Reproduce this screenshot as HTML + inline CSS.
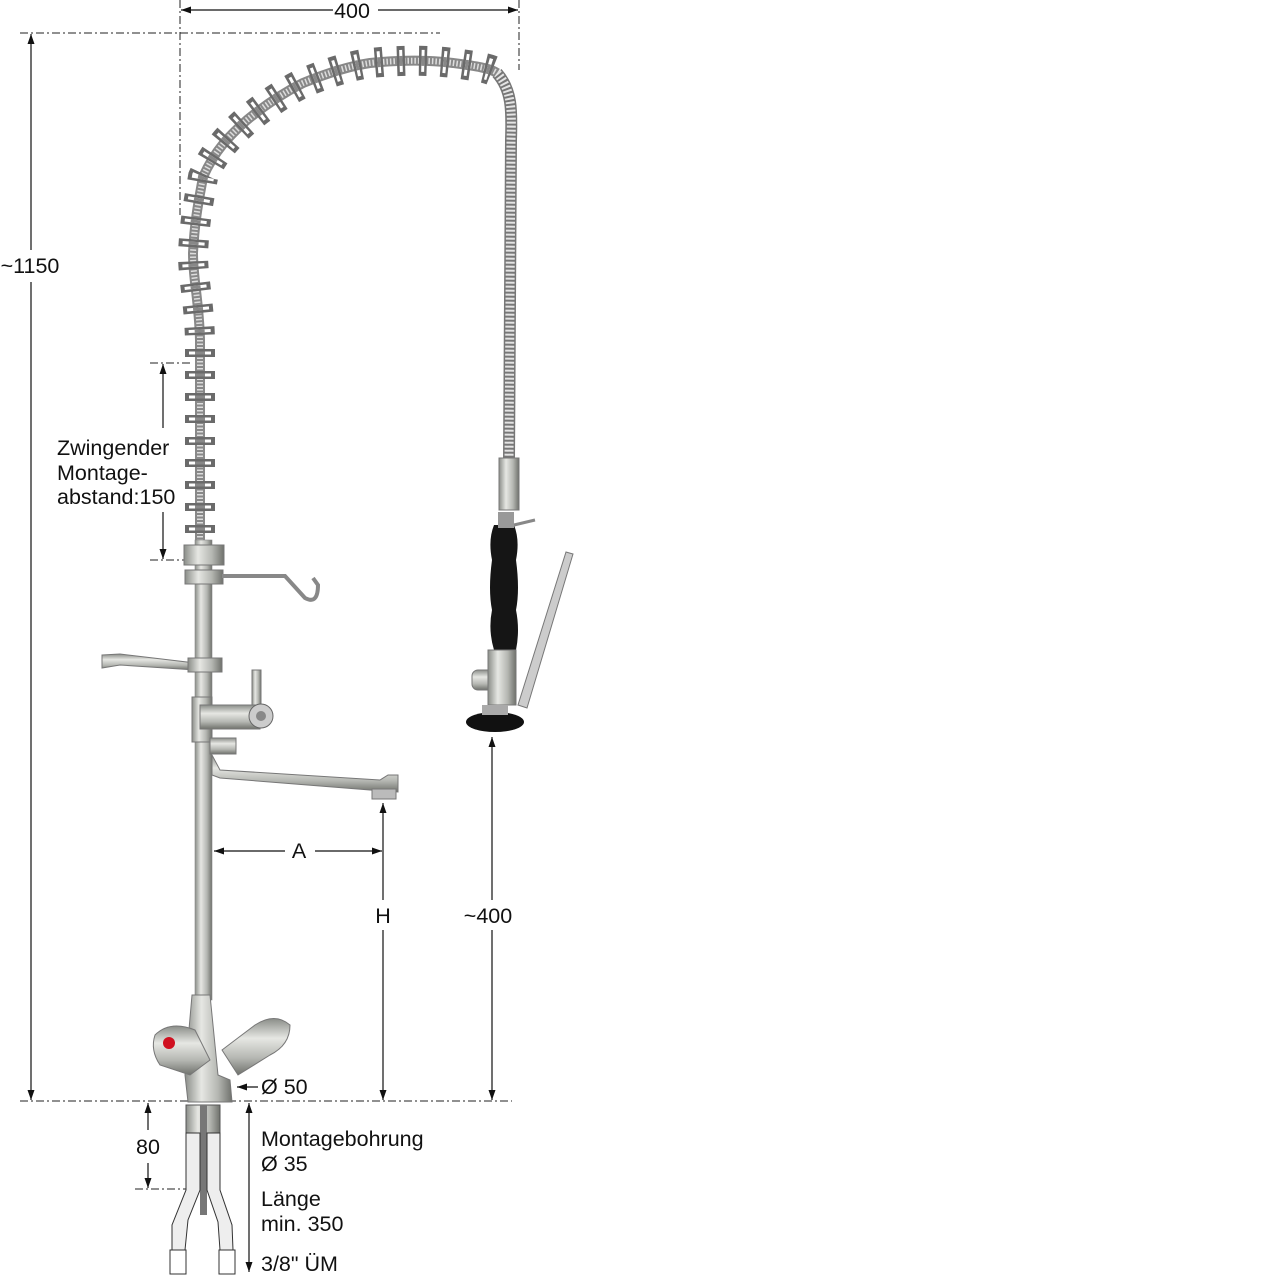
<!DOCTYPE html>
<html><head><meta charset="utf-8"><style>
html,body{margin:0;padding:0;background:#fff}
svg{display:block}
text{font-family:"Liberation Sans",Arial,sans-serif;font-size:21.5px;fill:#111}
</style></head><body>
<svg width="1280" height="1280" viewBox="0 0 1280 1280" xmlns="http://www.w3.org/2000/svg">
<defs>
<marker id="a" viewBox="0 0 10 10" refX="10" refY="5" markerWidth="10" markerHeight="10" orient="auto-start-reverse" markerUnits="userSpaceOnUse"><path d="M0,1.5 L10,5 L0,8.5 z" fill="#111"/></marker>
<linearGradient id="steel" x1="0" x2="1" y1="0" y2="0"><stop offset="0" stop-color="#8a8d88"/><stop offset=".35" stop-color="#e6e7e3"/><stop offset=".7" stop-color="#b5b7b2"/><stop offset="1" stop-color="#6f716c"/></linearGradient>
<linearGradient id="steelv" x1="0" x2="0" y1="0" y2="1"><stop offset="0" stop-color="#8a8d88"/><stop offset=".35" stop-color="#e6e7e3"/><stop offset=".7" stop-color="#b5b7b2"/><stop offset="1" stop-color="#6f716c"/></linearGradient>
<path id="sp" d="M200,555 L200,340 C199,300 193,280 193,253 C195,215 200,195 203,177 C215,150 230,135 247,120 C265,105 285,92 303,83 C330,72 350,66 370,63 C400,60 430,60 453,63 C475,66 490,68 497,73"/>
</defs>
<!-- dash-dot guide lines -->
<g stroke="#222" stroke-width="1" stroke-dasharray="8 3 2 3" fill="none">
<line x1="180" y1="0" x2="180" y2="215"/>
<line x1="519" y1="0" x2="519" y2="70"/>
<line x1="20" y1="33" x2="440" y2="33"/>
<line x1="20" y1="1101" x2="512" y2="1101"/>
<line x1="150" y1="363" x2="192" y2="363"/>
<line x1="150" y1="560" x2="186" y2="560"/>
<line x1="135" y1="1189" x2="195" y2="1189"/>
</g>
<!-- dimension lines -->
<g stroke="#111" stroke-width="1.2" fill="none">
<line x1="181" y1="10" x2="333" y2="10" marker-start="url(#a)"/>
<line x1="378" y1="10" x2="518" y2="10" marker-end="url(#a)"/>
<line x1="31" y1="34" x2="31" y2="250" marker-start="url(#a)"/>
<line x1="31" y1="282" x2="31" y2="1100" marker-end="url(#a)"/>
<line x1="163" y1="364" x2="163" y2="428" marker-start="url(#a)"/>
<line x1="163" y1="512" x2="163" y2="559" marker-end="url(#a)"/>
<line x1="214" y1="851" x2="285" y2="851" marker-start="url(#a)"/>
<line x1="315" y1="851" x2="382" y2="851" marker-end="url(#a)"/>
<line x1="383" y1="803" x2="383" y2="900" marker-start="url(#a)"/>
<line x1="383" y1="930" x2="383" y2="1100" marker-end="url(#a)"/>
<line x1="492" y1="737" x2="492" y2="900" marker-start="url(#a)"/>
<line x1="492" y1="930" x2="492" y2="1100" marker-end="url(#a)"/>
<line x1="258" y1="1087" x2="237" y2="1087" marker-end="url(#a)"/>
<line x1="148" y1="1103" x2="148" y2="1130" marker-start="url(#a)"/>
<line x1="148" y1="1163" x2="148" y2="1188" marker-end="url(#a)"/>
<line x1="249" y1="1103" x2="249" y2="1272" marker-start="url(#a)" marker-end="url(#a)"/>
</g>
<!-- hose -->
<path d="M497,73 C512,90 512,110 511,140 L509,460" fill="none" stroke="#777" stroke-width="12"/>
<path d="M497,73 C512,90 512,110 511,140 L509,460" fill="none" stroke="#e4e4e4" stroke-width="9" stroke-dasharray="2 2"/>
<rect x="499" y="458" width="20" height="52" fill="url(#steel)" stroke="#777"/>
<!-- spring -->
<use href="#sp" fill="none" stroke="#888" stroke-width="10"/>
<use href="#sp" fill="none" stroke="#ddd" stroke-width="6" stroke-dasharray="1.5 2"/>
<use href="#sp" fill="none" stroke="#6a6a6a" stroke-width="30" stroke-dasharray="8 14"/>
<use href="#sp" fill="none" stroke="#fff" stroke-width="22" stroke-dasharray="3 19" stroke-dashoffset="-2.5"/>
<use href="#sp" fill="none" stroke="#888" stroke-width="10" stroke-dasharray="3 19" stroke-dashoffset="-2.5"/>
<!-- pillar -->
<rect x="195" y="540" width="17" height="460" fill="url(#steel)" stroke="#888" stroke-width=".6"/>
<rect x="184" y="545" width="40" height="20" fill="url(#steel)" stroke="#777"/>
<rect x="185" y="570" width="38" height="14" fill="url(#steel)" stroke="#777"/>
<path d="M222,576 L285,576 L305,598 Q318,605 318,585 L313,578" fill="none" stroke="#888" stroke-width="4"/>
<path d="M102,655 L120,654 L195,663 L195,670 L120,665 L102,668 z" fill="url(#steelv)" stroke="#777"/>
<rect x="188" y="658" width="34" height="14" fill="url(#steel)" stroke="#777"/>
<rect x="192" y="697" width="20" height="45" fill="url(#steel)" stroke="#777"/>
<rect x="252" y="670" width="9" height="35" fill="url(#steel)" stroke="#777"/>
<rect x="200" y="705" width="60" height="24" fill="url(#steelv)" stroke="#777"/>
<circle cx="261" cy="716" r="12" fill="#ccc" stroke="#666"/>
<circle cx="261" cy="716" r="5" fill="#888"/>
<rect x="210" y="738" width="26" height="16" fill="url(#steelv)" stroke="#777"/>
<path d="M212,755 L220,770 L380,780 L388,775 L398,775 L398,792 L370,790 L220,778 L212,775 z" fill="url(#steelv)" stroke="#777"/>
<rect x="372" y="789" width="24" height="10" fill="#bbb" stroke="#777"/>
<!-- handle -->
<path d="M494,525 Q488,540 492,560 Q488,590 492,610 Q488,630 494,650 L516,650 Q520,630 516,610 Q520,590 516,560 Q520,540 514,525 z" fill="#151515"/>
<rect x="498" y="512" width="16" height="16" fill="#999"/>
<path d="M514,525 L535,520" stroke="#888" stroke-width="3"/>
<rect x="472" y="670" width="30" height="20" rx="6" fill="url(#steelv)" stroke="#777"/>
<rect x="488" y="650" width="28" height="55" fill="url(#steel)" stroke="#777"/>
<path d="M518,705 L566,552 L573,554 L527,708 z" fill="#ccc" stroke="#777"/>
<ellipse cx="495" cy="722" rx="29" ry="10" fill="#111"/>
<rect x="482" y="705" width="26" height="10" fill="#aaa"/>
<!-- mixer -->
<path d="M192,995 L210,995 L218,1075 L230,1080 L232,1102 L188,1102 L185,1075 z" fill="url(#steel)" stroke="#777"/>
<path d="M155,1035 Q170,1020 195,1030 L210,1060 L190,1075 L160,1065 Q150,1050 155,1035 z" fill="url(#steelv)" stroke="#777"/>
<circle cx="169" cy="1043" r="6" fill="#d01020"/>
<path d="M222,1050 L255,1025 Q275,1012 290,1025 Q290,1045 270,1055 L238,1075 z" fill="url(#steelv)" stroke="#777"/>
<!-- hoses -->
<rect x="186" y="1105" width="34" height="28" fill="url(#steel)" stroke="#555"/>
<rect x="200" y="1105" width="7" height="110" fill="#777"/>
<path d="M186,1133 L200,1133 L200,1190 L188,1220 L185,1250 L172,1250 L172,1225 L186,1190 z" fill="#eee" stroke="#333"/>
<path d="M207,1133 L220,1133 L220,1190 L232,1225 L233,1250 L220,1250 L218,1222 L207,1190 z" fill="#eee" stroke="#333"/>
<rect x="170" y="1250" width="16" height="24" fill="#fff" stroke="#333"/>
<rect x="219" y="1250" width="16" height="24" fill="#fff" stroke="#333"/>
<!-- labels -->
<text x="352" y="18" text-anchor="middle">400</text>
<text x="30" y="273" text-anchor="middle">~1150</text>
<text x="57" y="455">Zwingender</text>
<text x="57" y="480">Montage-</text>
<text x="57" y="504">abstand:150</text>
<text x="299" y="858" text-anchor="middle">A</text>
<text x="383" y="923" text-anchor="middle">H</text>
<text x="488" y="923" text-anchor="middle">~400</text>
<text x="261" y="1094">Ø 50</text>
<text x="148" y="1154" text-anchor="middle">80</text>
<text x="261" y="1146">Montagebohrung</text>
<text x="261" y="1171">Ø 35</text>
<text x="261" y="1206">Länge</text>
<text x="261" y="1231">min. 350</text>
<text x="261" y="1271">3/8" ÜM</text>
</svg>
</body></html>
